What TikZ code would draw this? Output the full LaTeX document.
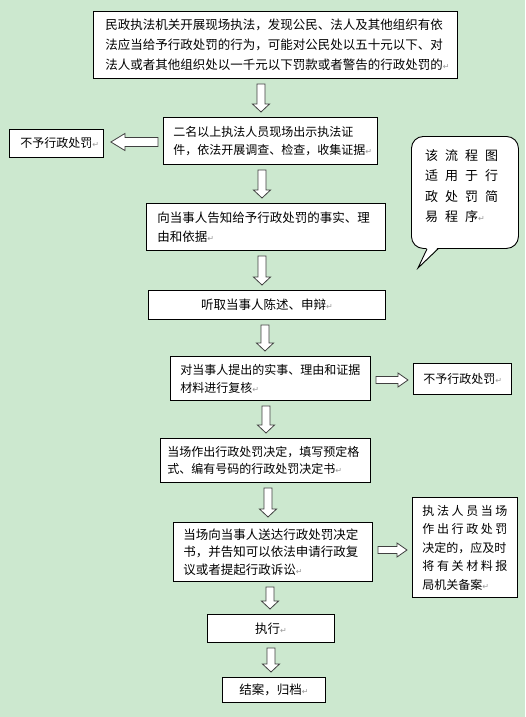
\documentclass[tikz,border=0pt]{standalone}
\usepackage{fontspec}
\newfontfamily\cjk{Noto Sans CJK SC}
\newfontfamily\dejavu{DejaVu Sans}
\usetikzlibrary{calc}
\definecolor{bg}{RGB}{204,232,207}
\newcommand\retmk{{\dejavu\color{black!40}\fontsize{8}{8}\selectfont ↵}}
\newcommand\bdown[3]{%
  \coordinate (ax) at (#3,0);
  \coordinate (s0) at (ax |- #1.south);
  \coordinate (t0) at (ax |- #2.north);
  \coordinate (s) at ($(s0)+(0,5)$);
  \coordinate (t) at ($(t0)+(0,-5)$);
  \draw[barrow] ($(s)+(-4,0)$) -- ($(t)+(-4,-8)$) -- ($(t)+(-8.5,-8)$) -- (t)
    -- ($(t)+(8.5,-8)$) -- ($(t)+(4,-8)$) -- ($(s)+(4,0)$) -- cycle;}
\newcommand\bleft[3]{%
  \coordinate (ay) at (0,#3);
  \coordinate (s0) at (ay -| #1.west);
  \coordinate (t0) at (ay -| #2.east);
  \coordinate (s) at ($(s0)+(-5,0)$);
  \coordinate (t) at ($(t0)+(7,0)$);
  \draw[barrow] ($(s)+(0,-4.5)$) -- ($(t)+(14,-4.5)$) -- ($(t)+(14,-8.5)$) -- (t)
    -- ($(t)+(14,8.5)$) -- ($(t)+(14,4.5)$) -- ($(s)+(0,4.5)$) -- cycle;}
\newcommand\bright[3]{%
  \coordinate (ay) at (0,#3);
  \coordinate (s0) at (ay -| #1.east);
  \coordinate (t0) at (ay -| #2.west);
  \coordinate (s) at ($(s0)+(5,0)$);
  \coordinate (t) at ($(t0)+(-5,0)$);
  \draw[barrow] ($(s)+(0,-3.5)$) -- ($(t)+(-10,-3.5)$) -- ($(t)+(-10,-7)$) -- (t)
    -- ($(t)+(-10,7)$) -- ($(t)+(-10,3.5)$) -- ($(s)+(0,3.5)$) -- cycle;}
\begin{document}
\begin{tikzpicture}[x=1pt,y=-1pt,
  box/.style={draw=black, line width=0.9pt, fill=white, anchor=north west,
    inner ysep=0pt, align=left, font=\cjk\fontsize{12.5}{19}\selectfont},
  smallbox/.style={box, font=\cjk\fontsize{12}{18}\selectfont},
  barrow/.style={draw=black!75, fill=white, line width=0.8pt, line join=miter},
  bubble/.style={draw=black, line width=0.9pt, fill=white, rounded corners=12pt,
    anchor=north west, minimum width=107pt, minimum height=112pt, inner sep=0pt},
  bubtext/.style={anchor=north west, inner sep=0pt, align=left,
    font=\cjk\fontsize{13}{20.5}\selectfont}]
\fill[bg] (0,0) rectangle (525,717);
\useasboundingbox (0,0) rectangle (525,717);

% main column
\node[box, minimum height=67pt, text width=340pt, inner xsep=12pt, font=\cjk\fontsize{12.5}{20}\selectfont] (b1) at (93,11)
  {民政执法机关开展现场执法，发现公民、法人及其他组织有依\\法应当给予行政处罚的行为，可能对公民处以五十元以下、对\\法人或者其他组织处以一千元以下罚款或者警告的行政处罚的\retmk};
\node[smallbox, minimum height=47pt, text width=194pt, inner xsep=10pt] (b2) at (163,117)
  {二名以上执法人员现场出示执法证\\件，依法开展调查、检查，收集证据\retmk};
\node[smallbox, minimum height=28pt, text width=72pt, inner xsep=11pt] (l1) at (9,129)
  {不予行政处罚\retmk};
\node[box, minimum height=47pt, text width=217pt, inner xsep=11pt] (b3) at (146,203)
  {向当事人告知给予行政处罚的事实、理\\由和依据\retmk};
\node[box, minimum height=29pt, text width=217pt, inner xsep=10pt, align=center] (b4) at (148,290)
  {听取当事人陈述、申辩\retmk};
\node[smallbox, minimum height=44pt, text width=180pt, inner xsep=10pt] (b5) at (170,356)
  {对当事人提出的实事、理由和证据\\材料进行复核\retmk};
\node[smallbox, minimum height=31pt, text width=78pt, inner xsep=10pt] (r5) at (413,363)
  {不予行政处罚\retmk};
\node[smallbox, minimum height=44pt, text width=196pt, inner xsep=7pt, font=\cjk\fontsize{12}{17}\selectfont] (b6) at (160,438)
  {当场作出行政处罚决定，填写预定格\\式、编有号码的行政处罚决定书\retmk};
\node[box, minimum height=59pt, text width=179pt, inner xsep=10pt, font=\cjk\fontsize{12.5}{17.5}\selectfont] (b7) at (173,522)
  {当场向当事人送达行政处罚决定\\书，并告知可以依法申请行政复\\议或者提起行政诉讼\retmk};
\node[smallbox, minimum height=100pt, text width=85pt, inner xsep=10pt, font=\cjk\fontsize{12}{18.5}\selectfont] (r7) at (412,497)
  {\makebox[\linewidth][s]{执\hfill 法\hfill 人\hfill 员\hfill 当\hfill 场}\\
   \makebox[\linewidth][s]{作\hfill 出\hfill 行\hfill 政\hfill 处\hfill 罚}\\
   决定的，应及时\\
   \makebox[\linewidth][s]{将\hfill 有\hfill 关\hfill 材\hfill 料\hfill 报}\\
   局机关备案\retmk};
\node[box, minimum height=28pt, text width=107pt, inner xsep=10pt, align=center] (b8) at (207,614)
  {执行\retmk};
\node[box, minimum height=25pt, text width=83pt, inner xsep=10pt, align=center] (b9) at (222,677)
  {结案，归档\retmk};

% speech bubble
\node[bubble] (bub) at (411,136) {};
\fill[white] ($(bub.south west)+(16,-1.5)$) -- (418,268) -- ($(bub.south west)+(27,-1.5)$) -- cycle;
\draw[line width=0.9pt, line join=miter] ($(bub.south west)+(16,0)$) -- (418,268) -- ($(bub.south west)+(27,0)$);
\node[bubtext] (bubtxt) at (425,149)
  {\makebox[20pt][l]{该}\makebox[20pt][l]{流}\makebox[20pt][l]{程}图\\
   \makebox[20pt][l]{适}\makebox[20pt][l]{用}\makebox[20pt][l]{于}行\\
   \makebox[20pt][l]{政}\makebox[20pt][l]{处}\makebox[20pt][l]{罚}简\\
   \makebox[20pt][l]{易}\makebox[20pt][l]{程}序\retmk};

% block arrows
\bdown{b1}{b2}{261}
\bdown{b2}{b3}{262}
\bdown{b3}{b4}{262}
\bdown{b4}{b5}{265}
\bdown{b5}{b6}{266}
\bdown{b6}{b7}{268}
\bdown{b7}{b8}{270}
\bdown{b8}{b9}{271}
\bleft{b2}{l1}{142}
\bright{b5}{r5}{380}
\bright{b7}{r7}{550}
\end{tikzpicture}
\end{document}
